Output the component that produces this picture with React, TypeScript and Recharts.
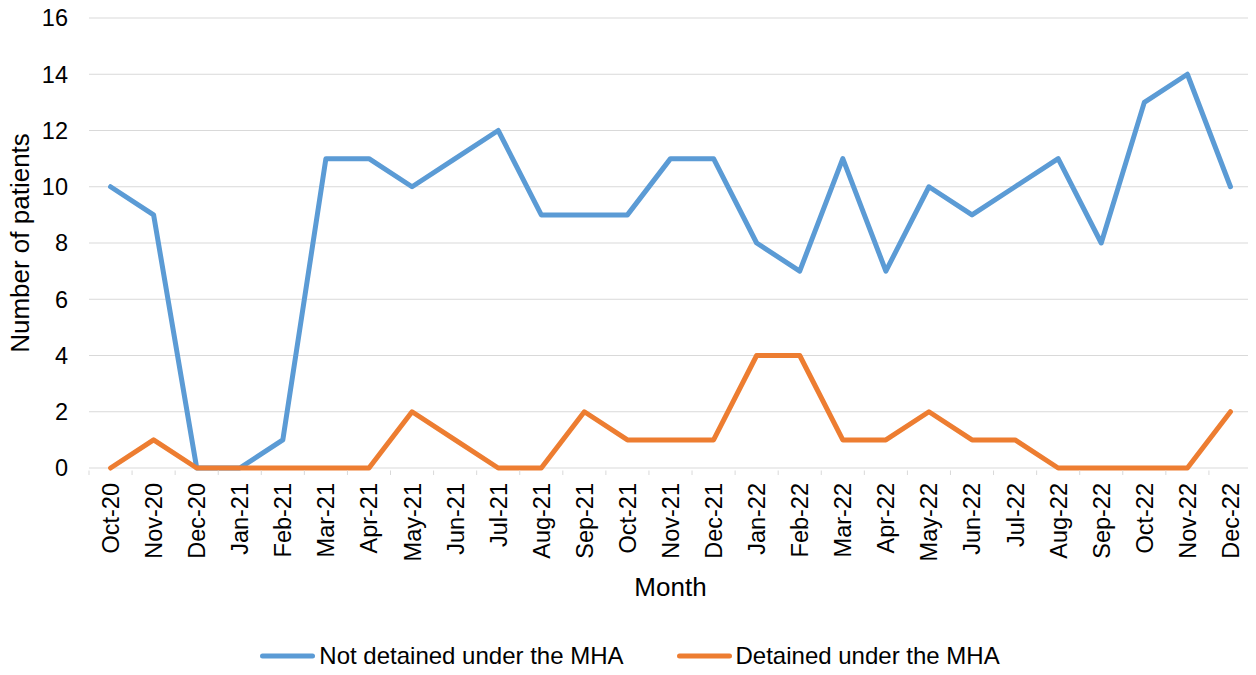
import React from 'react';
import { LineChart, Line, XAxis, YAxis, CartesianGrid, Legend } from 'recharts';

const MONTHS = [
  'Oct-20', 'Nov-20', 'Dec-20', 'Jan-21', 'Feb-21', 'Mar-21', 'Apr-21', 'May-21', 'Jun-21',
  'Jul-21', 'Aug-21', 'Sep-21', 'Oct-21', 'Nov-21', 'Dec-21', 'Jan-22', 'Feb-22', 'Mar-22',
  'Apr-22', 'May-22', 'Jun-22', 'Jul-22', 'Aug-22', 'Sep-22', 'Oct-22', 'Nov-22', 'Dec-22',
];

const NOT_DETAINED = [10, 9, 0, 0, 1, 11, 11, 10, 11, 12, 9, 9, 9, 11, 11, 8, 7, 11, 7, 10, 9, 10, 11, 8, 13, 14, 10];
const DETAINED = [0, 1, 0, 0, 0, 0, 0, 2, 1, 0, 0, 2, 1, 1, 1, 4, 4, 1, 1, 2, 1, 1, 0, 0, 0, 0, 2];

const Y_TICKS = [0, 2, 4, 6, 8, 10, 12, 14, 16];

const SERIES_NAMES = ['Not detained under the MHA', 'Detained under the MHA'];
const COLORS = ['#5B9BD5', '#ED7D31'];

const data = MONTHS.map((m, i) => ({
  month: m,
  notDetained: NOT_DETAINED[i],
  detained: DETAINED[i],
}));

const FONT = '"Liberation Sans", Arial, Helvetica, sans-serif';
const TICK_GAP = 15;
const TICK_LEN = 7;

const renderLegend = (props: any) => {
  const payload = [...(props.payload || [])].sort(
    (a: any, b: any) => SERIES_NAMES.indexOf(a.value) - SERIES_NAMES.indexOf(b.value)
  );
  return (
    <div
      style={{
        height: 30,
        display: 'flex',
        justifyContent: 'center',
        alignItems: 'center',
        fontFamily: FONT,
        fontSize: 24,
        color: '#000',
      }}
    >
      {payload.map((entry: any, i: number) => (
        <div key={i} style={{ display: 'flex', alignItems: 'center', marginLeft: i > 0 ? 53 : 0 }}>
          <svg width={55} height={10} style={{ display: 'block' }}>
            <line x1={2.5} y1={5} x2={52.5} y2={5} stroke={entry.color} strokeWidth={5} strokeLinecap="round" />
          </svg>
          <span style={{ marginLeft: 4, lineHeight: '30px', whiteSpace: 'nowrap' }}>{entry.value}</span>
        </div>
      ))}
    </div>
  );
};

const MonthTick = (props: any) => {
  const { x, y, payload, index, visibleTicksCount } = props;
  const half = payload && typeof payload.offset === 'number' ? payload.offset : 0;
  const isLast = index === (visibleTicksCount ?? MONTHS.length) - 1;
  return (
    <g transform={`translate(${x},${y})`}>
      <line x1={-half} x2={-half} y1={-TICK_GAP + 2.5} y2={-TICK_GAP + TICK_LEN} stroke="#d9d9d9" strokeWidth={1} />
      {isLast && (
        <line x1={half} x2={half} y1={-TICK_GAP} y2={-TICK_GAP + TICK_LEN} stroke="#d9d9d9" strokeWidth={1} />
      )}
      <text
        x={0}
        y={0}
        dy="0.36em"
        transform="rotate(-90)"
        textAnchor="end"
        fontSize={23.5}
        fill="#000"
        fontFamily={FONT}
      >
        {payload.value}
      </text>
    </g>
  );
};

export default function App() {
  return (
    <div style={{ fontFamily: FONT }}>
      <style>{`.recharts-line, .recharts-line * { clip-path: none !important; } .recharts-surface { overflow: visible; }`}</style>
      <LineChart
        width={1248}
        height={667}
        data={data}
        margin={{ top: 10, right: 4, left: 0, bottom: 3 }}
      >
        <CartesianGrid horizontal vertical={false} stroke="#d9d9d9" strokeWidth={1} />
        <XAxis
          dataKey="month"
          type="category"
          scale="band"
          interval={0}
          height={174}
          axisLine={false}
          tickLine={false}
          tickSize={0}
          tickMargin={TICK_GAP}
          tick={MonthTick}
          label={{ value: 'Month', position: 'insideBottom', offset: 46, fontSize: 26, fill: '#000', fontFamily: FONT }}
        />
        <YAxis
          width={81}
          domain={[0, 16]}
          ticks={Y_TICKS}
          interval={0}
          axisLine={false}
          tickLine={false}
          tickSize={0}
          tickMargin={21}
          tick={{ fontSize: 23.5, fill: '#000', fontFamily: FONT }}
          label={{
            value: 'Number of patients',
            angle: -90,
            position: 'insideLeft',
            offset: 12,
            fontSize: 26,
            fill: '#000',
            fontFamily: FONT,
            style: { textAnchor: 'middle' },
          }}
        />
        <Legend verticalAlign="bottom" content={renderLegend} wrapperStyle={{ bottom: 4 }} />
        <Line
          type="linear"
          dataKey="notDetained"
          name={SERIES_NAMES[0]}
          stroke={COLORS[0]}
          strokeWidth={5}
          strokeLinecap="round"
          strokeLinejoin="round"
          dot={false}
          activeDot={false}
          isAnimationActive={false}
        />
        <Line
          type="linear"
          dataKey="detained"
          name={SERIES_NAMES[1]}
          stroke={COLORS[1]}
          strokeWidth={5}
          strokeLinecap="round"
          strokeLinejoin="round"
          dot={false}
          activeDot={false}
          isAnimationActive={false}
        />
      </LineChart>
    </div>
  );
}
